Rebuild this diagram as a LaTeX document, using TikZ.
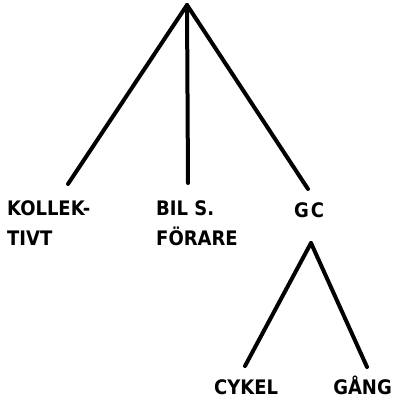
\documentclass[tikz,border=0pt]{standalone}
\usepackage{fontspec}
\setmainfont{DejaVu Sans Condensed}[BoldFont={DejaVu Sans Condensed Bold}]
\begin{document}
\begin{tikzpicture}[x=1pt,y=-1pt,
  branch/.style={line width=4pt,line cap=round},
  lbl/.style={anchor=base west,inner sep=0pt,font=\fontsize{20}{22}\selectfont\bfseries},
  lblr/.style={lbl,anchor=base east}]
\useasboundingbox[fill=white] (0,0) rectangle (394,399);
% tree points
\coordinate (root) at (187,5);
\coordinate (kolEnd) at (68,184);
\coordinate (bilEnd) at (188,183);
\coordinate (gcEnd) at (308,189);
\coordinate (gcTop) at (311,243);
\coordinate (cykEnd) at (245,366);
\coordinate (gangEnd) at (367,367);
% labels
\node[lbl] (kol1) at (7,215) {KOLLEK-};
\node[lbl] (kol2) at (7,245) {TIVT};
\node[lbl] (bil1) at (156,215) {BIL S.};
\node[lbl] (bil2) at (156,245) {FÖRARE};
\node[lbl] (gc) at (294,217) {G\kern2pt C};
\node[lbl] (cyk) at (214,394) {CYKEL};
\node[lblr] (gang) at (392,394) {GÅNG};
% branches
\draw[branch] (root) -- (kolEnd);
\draw[branch] (root) -- (bilEnd);
\draw[branch] (root) -- (gcEnd);
\draw[branch] (gcTop) -- (cykEnd);
\draw[branch] (gcTop) -- (gangEnd);
\end{tikzpicture}
\end{document}
